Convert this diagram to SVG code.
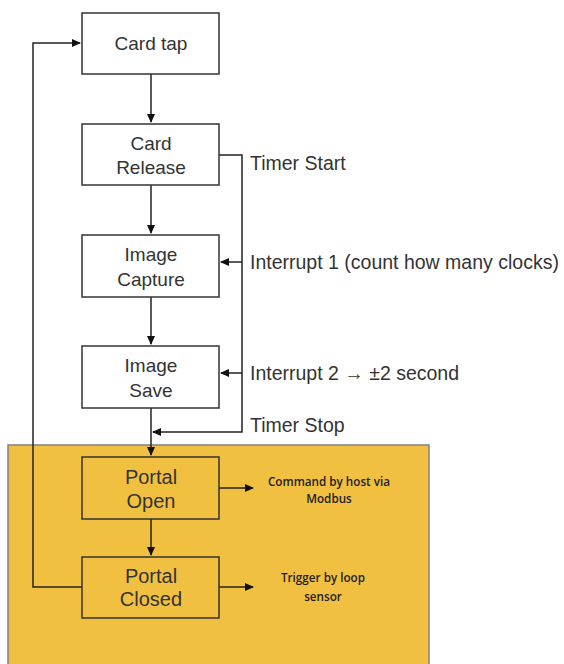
<svg xmlns="http://www.w3.org/2000/svg" width="564" height="664" viewBox="0 0 564 664">
<style>
.box{fill:#fff;stroke:#333;stroke-width:1.5}
.pbox{fill:#F2C040;stroke:#333;stroke-width:1.5}
.t{font-family:"Liberation Sans",Arial,sans-serif;font-size:19px;fill:#333;text-anchor:middle}
.tp{font-family:"Liberation Sans",Arial,sans-serif;font-size:20px;fill:#333;text-anchor:middle}
.lab{font-family:"Liberation Sans",Arial,sans-serif;font-size:19.5px;fill:#333}
.sm{font-family:"Open Sans","Liberation Sans",sans-serif;font-size:11.7px;font-weight:600;fill:#222;text-anchor:middle}
.c{fill:none;stroke:#222;stroke-width:1.5}
</style>
<defs>
<marker id="ah" markerWidth="10" markerHeight="10" refX="8" refY="5" orient="auto" markerUnits="userSpaceOnUse">
<path d="M0,1 L9,5 L0,9 Z" fill="#111"/>
</marker>
</defs>
<rect x="8" y="445" width="421" height="225" fill="#F2C040" stroke="#808080" stroke-width="1.5"/>
<g id="connectors">
<path class="c" d="M151,74 V122" marker-end="url(#ah)"/>
<path class="c" d="M151,185 V233" marker-end="url(#ah)"/>
<path class="c" d="M151,297 V344" marker-end="url(#ah)"/>
<path class="c" d="M151,408 V455" marker-end="url(#ah)"/>
<path class="c" d="M219,155 H242 V432 H153" marker-end="url(#ah)"/>
<path class="c" d="M242,262 H221" marker-end="url(#ah)"/>
<path class="c" d="M242,373 H221" marker-end="url(#ah)"/>
<path class="c" d="M151,519 V555" marker-end="url(#ah)"/>
<path class="c" d="M82,587 H33 V43 H80" marker-end="url(#ah)"/>
<path class="c" d="M219,488 H253" marker-end="url(#ah)"/>
<path class="c" d="M219,587 H253" marker-end="url(#ah)"/>
</g>
<g id="card-tap"><rect class="box" x="82" y="13" width="137" height="61"/><text class="t" x="151" y="50">Card tap</text></g>
<g id="card-release"><rect class="box" x="82" y="124" width="137" height="61"/><text class="t" x="151" y="150">Card</text><text class="t" x="151" y="174">Release</text></g>
<g id="image-capture"><rect class="box" x="82" y="235" width="137" height="62"/><text class="t" x="151" y="261">Image</text><text class="t" x="151" y="286">Capture</text></g>
<g id="image-save"><rect class="box" x="82" y="346" width="137" height="62"/><text class="t" x="151" y="372">Image</text><text class="t" x="151" y="397">Save</text></g>
<g id="portal-open"><rect class="pbox" x="82" y="457" width="137" height="62"/><text class="tp" x="151" y="484">Portal</text><text class="tp" x="151" y="508">Open</text></g>
<g id="portal-closed"><rect class="pbox" x="82" y="557" width="137" height="61"/><text class="tp" x="151" y="583">Portal</text><text class="tp" x="151" y="606">Closed</text></g>
<g id="labels">
<text class="lab" x="250" y="170">Timer Start</text>
<text class="lab" x="250" y="269">Interrupt 1 (count how many clocks)</text>
<text class="lab" x="250" y="380">Interrupt 2 → ±2 second</text>
<text class="lab" x="250" y="432">Timer Stop</text>
<text class="sm" x="329" y="486">Command by host via</text>
<text class="sm" x="329" y="503">Modbus</text>
<text class="sm" x="323" y="582">Trigger by loop</text>
<text class="sm" x="323" y="601">sensor</text>
</g>
</svg>
